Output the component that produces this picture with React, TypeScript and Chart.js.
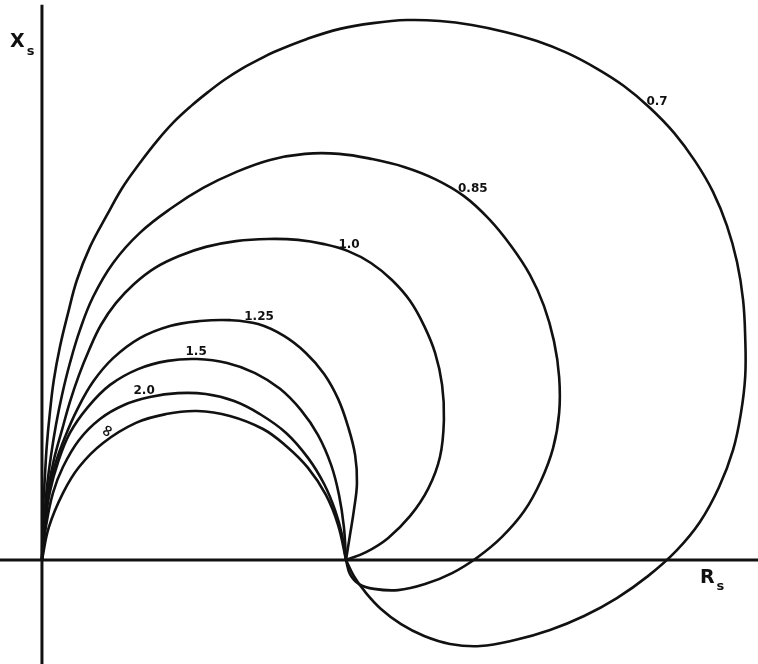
import React, { useEffect, useRef } from "react";
import { Chart, registerables } from "chart.js";

Chart.register(...registerables);

// Parameter values of each locus
const curveNames = ["0.7", "0.85", "1.0", "1.25", "1.5", "2.0", "∞"];

// Each locus as [R_s, X_s] pairs (normalised so that the common end point is R_s = 1)
const curve0_7: [number, number][] = [
  [0, 0], [0.003, 0.148], [0.01, 0.28], [0.016, 0.378], [0.026, 0.484], [0.039, 0.592],
  [0.059, 0.701], [0.086, 0.813], [0.115, 0.921], [0.158, 1.03], [0.214, 1.135],
  [0.266, 1.227], [0.322, 1.306], [0.378, 1.378], [0.434, 1.441], [0.49, 1.493],
  [0.546, 1.539], [0.599, 1.579], [0.655, 1.615], [0.711, 1.645], [0.763, 1.671],
  [0.872, 1.714], [0.98, 1.747], [1.089, 1.766], [1.201, 1.776], [1.309, 1.773],
  [1.414, 1.76], [1.523, 1.737], [1.628, 1.707], [1.727, 1.668], [1.822, 1.618],
  [1.914, 1.559], [2.0, 1.487], [2.079, 1.405], [2.148, 1.312], [2.207, 1.211],
  [2.253, 1.099], [2.286, 0.98], [2.306, 0.855], [2.313, 0.73], [2.313, 0.605],
  [2.299, 0.484], [2.273, 0.362], [2.227, 0.24], [2.164, 0.125], [2.086, 0.03],
  [1.993, -0.053], [1.891, -0.125], [1.783, -0.184], [1.671, -0.23], [1.556, -0.263],
  [1.441, -0.283], [1.342, -0.276], [1.257, -0.25], [1.181, -0.211], [1.115, -0.161],
  [1.063, -0.105], [1.026, -0.053], [1, 0],
];

const curve0_85: [number, number][] = [
  [0, 0], [0.007, 0.125], [0.016, 0.237], [0.03, 0.345], [0.046, 0.444], [0.066, 0.543],
  [0.092, 0.648], [0.125, 0.757], [0.168, 0.865], [0.234, 0.977], [0.322, 1.076],
  [0.431, 1.161], [0.53, 1.224], [0.638, 1.276], [0.75, 1.316], [0.865, 1.336],
  [0.977, 1.336], [1.086, 1.319], [1.191, 1.293], [1.293, 1.253], [1.388, 1.197],
  [1.47, 1.122], [1.543, 1.033], [1.605, 0.938], [1.651, 0.836], [1.684, 0.72],
  [1.701, 0.602], [1.701, 0.484], [1.681, 0.368], [1.641, 0.26], [1.586, 0.161],
  [1.513, 0.076], [1.434, 0.01], [1.349, -0.043], [1.26, -0.079], [1.171, -0.099],
  [1.092, -0.095], [1.043, -0.079], [1.013, -0.046], [1, 0],
];

const curve1_0: [number, number][] = [
  [0, 0], [0.007, 0.125], [0.02, 0.23], [0.039, 0.329], [0.066, 0.428], [0.092, 0.52],
  [0.122, 0.609], [0.155, 0.691], [0.194, 0.773], [0.243, 0.845], [0.303, 0.908],
  [0.372, 0.961], [0.451, 1.0], [0.539, 1.03], [0.638, 1.049], [0.743, 1.056],
  [0.842, 1.053], [0.928, 1.039], [1.007, 1.016], [1.082, 0.977], [1.151, 0.921],
  [1.211, 0.852], [1.257, 0.77], [1.293, 0.681], [1.316, 0.576], [1.322, 0.461],
  [1.309, 0.339], [1.27, 0.234], [1.211, 0.145], [1.138, 0.072], [1.066, 0.026], [1, 0],
];

const curve1_25: [number, number][] = [
  [0, 0], [0.007, 0.112], [0.02, 0.217], [0.043, 0.313], [0.076, 0.405], [0.115, 0.493],
  [0.168, 0.586], [0.234, 0.664], [0.322, 0.73], [0.421, 0.77], [0.52, 0.786],
  [0.618, 0.789], [0.711, 0.776], [0.796, 0.737], [0.868, 0.681], [0.928, 0.612],
  [0.974, 0.53], [1.007, 0.438], [1.03, 0.345], [1.036, 0.253], [1.026, 0.164],
  [1.013, 0.082], [1, 0],
];

const curve1_5: [number, number][] = [
  [0, 0], [0.01, 0.115], [0.026, 0.224], [0.053, 0.322], [0.092, 0.418], [0.151, 0.503],
  [0.224, 0.576], [0.316, 0.628], [0.414, 0.655], [0.51, 0.661], [0.609, 0.648],
  [0.701, 0.615], [0.783, 0.563], [0.852, 0.493], [0.908, 0.411], [0.951, 0.313],
  [0.977, 0.214], [0.993, 0.109], [1, 0],
];

const curve2_0: [number, number][] = [
  [0, 0], [0.013, 0.109], [0.036, 0.22], [0.069, 0.306], [0.122, 0.395], [0.191, 0.464],
  [0.27, 0.51], [0.355, 0.536], [0.447, 0.549], [0.539, 0.546], [0.632, 0.523],
  [0.717, 0.48], [0.803, 0.418], [0.875, 0.336], [0.928, 0.25], [0.964, 0.164],
  [0.987, 0.082], [1, 0],
];

const curveInf: [number, number][] = [
  [0, 0], [0.023, 0.109], [0.069, 0.22], [0.122, 0.306], [0.201, 0.385], [0.309, 0.451],
  [0.408, 0.48], [0.51, 0.49], [0.618, 0.474], [0.727, 0.431], [0.803, 0.375],
  [0.875, 0.303], [0.934, 0.214], [0.974, 0.115], [1, 0],
];

const curves = [curve0_7, curve0_85, curve1_0, curve1_25, curve1_5, curve2_0, curveInf];

// Where each curve's label sits (data units) and its rotation in degrees
const labelAnchors: [number, number, number][] = [
  [2.023, 1.506, 0],
  [1.417, 1.22, 0],
  [1.01, 1.036, 0],
  [0.714, 0.799, 0],
  [0.507, 0.684, 0],
  [0.336, 0.556, 0],
  [0.217, 0.424, -62],
];

const axisNames = { y: ["X", "s"], x: ["R", "s"] };

const X_MIN = -0.138;
const X_MAX = 2.355;
const Y_MIN = -0.342;
const Y_MAX = 1.842;

export default function App() {
  const canvasRef = useRef<HTMLCanvasElement | null>(null);

  useEffect(() => {
    if (!canvasRef.current) return;
    const ink = "#111";

    const axesPlugin = {
      id: "axesAndLabels",
      beforeDatasetsDraw(chart: any) {
        const { ctx, scales } = chart;
        const xs = scales.x;
        const ys = scales.y;
        const x0 = xs.getPixelForValue(0);
        const y0 = ys.getPixelForValue(0);
        ctx.save();
        ctx.strokeStyle = ink;
        ctx.lineWidth = 3;
        ctx.beginPath();
        ctx.moveTo(x0, ys.getPixelForValue(1.826));
        ctx.lineTo(x0, ys.getPixelForValue(Y_MIN));
        ctx.stroke();
        ctx.beginPath();
        ctx.moveTo(xs.getPixelForValue(X_MIN), y0);
        ctx.lineTo(xs.getPixelForValue(X_MAX), y0);
        ctx.stroke();
        ctx.restore();
      },
      afterDatasetsDraw(chart: any) {
        const { ctx, scales } = chart;
        const xs = scales.x;
        const ys = scales.y;
        ctx.save();
        ctx.fillStyle = ink;
        ctx.textAlign = "center";
        ctx.textBaseline = "middle";
        curveNames.forEach((name, i) => {
          const [lx, ly, rot] = labelAnchors[i];
          const px = xs.getPixelForValue(lx);
          const py = ys.getPixelForValue(ly);
          ctx.save();
          ctx.translate(px, py);
          if (rot) ctx.rotate((rot * Math.PI) / 180);
          ctx.font = name === "∞" ? "bold 16px 'DejaVu Sans'" : "bold 12px 'DejaVu Sans'";
          ctx.fillText(name, 0, 0);
          ctx.restore();
        });
        const drawAxisName = (parts: string[], vx: number, vy: number, sub: number) => {
          const px = xs.getPixelForValue(vx);
          const py = ys.getPixelForValue(vy);
          ctx.textAlign = "left";
          ctx.textBaseline = "alphabetic";
          ctx.font = "bold 19px 'DejaVu Sans'";
          ctx.fillText(parts[0], px, py);
          const w = ctx.measureText(parts[0]).width;
          ctx.font = "bold 13px 'DejaVu Sans'";
          ctx.fillText(parts[1], px + w + 2, py + sub);
        };
        drawAxisName(axisNames.y, -0.105, 1.688, 8);
        drawAxisName(axisNames.x, 2.164, -0.076, 7);
        ctx.restore();
      },
    };

    const chart = new Chart(canvasRef.current, {
      type: "scatter",
      data: {
        datasets: curves.map((c, i) => ({
          label: curveNames[i],
          data: c.map(([x, y]) => ({ x, y })),
          showLine: true,
          borderColor: ink,
          borderWidth: 2.6,
          pointRadius: 0,
          tension: 0.4,
          fill: false,
        })),
      },
      options: {
        animation: false,
        responsive: true,
        maintainAspectRatio: false,
        layout: { padding: 0 },
        plugins: { legend: { display: false }, tooltip: { enabled: false } },
        scales: {
          x: { type: "linear", min: X_MIN, max: X_MAX, display: false },
          y: { type: "linear", min: Y_MIN, max: Y_MAX, display: false },
        },
      },
      plugins: [axesPlugin],
    });
    return () => chart.destroy();
  }, []);

  return (
    <div style={{ position: "absolute", left: 0, top: 0, width: 758, height: 664, background: "#fff" }}>
      <canvas ref={canvasRef} />
    </div>
  );
}
